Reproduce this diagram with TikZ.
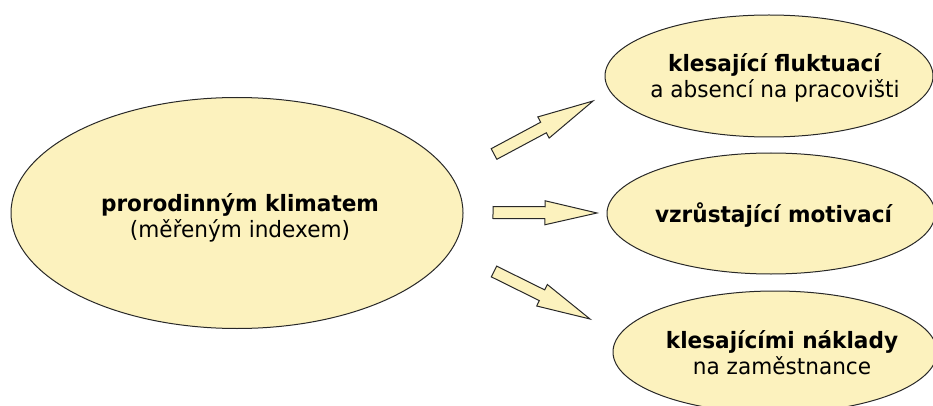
\documentclass[tikz,border=0pt]{standalone}
\usepackage{fontspec}
\setmainfont{DejaVu Sans}[FakeStretch=0.96]
\usetikzlibrary{shapes.geometric,calc}
\definecolor{ovalfill}{RGB}{252,242,190}
\definecolor{edgegray}{RGB}{40,40,40}
\tikzset{
  oval/.style={ellipse, draw=edgegray, fill=ovalfill, line width=1pt, inner sep=0pt},
  ovaltext/.style={inner sep=0pt, align=center, font=\fontsize{22.5}{26}\selectfont},
  blockarrow/.style={draw=edgegray, fill=ovalfill, line width=1pt, line join=miter,
    to path={($(\tikztostart)!6pt!90:(\tikztotarget)$)
      -- ($(\tikztostart)!.5!(\tikztotarget)!6pt!90:(\tikztotarget)$)
      -- ($(\tikztostart)!.5!(\tikztotarget)!12pt!90:(\tikztotarget)$)
      -- (\tikztotarget)
      -- ($(\tikztostart)!.5!(\tikztotarget)!12pt!-90:(\tikztotarget)$)
      -- ($(\tikztostart)!.5!(\tikztotarget)!6pt!-90:(\tikztotarget)$)
      -- ($(\tikztostart)!6pt!-90:(\tikztotarget)$) -- cycle}}
}
\begin{document}
\begin{tikzpicture}[x=1pt,y=1pt,yscale=-1,xscale=1]
\useasboundingbox (0,0) rectangle (933,406);

%Shape: Ellipse [climate]
\node[oval, minimum width=452pt, minimum height=231pt] (climate) at (237,213) {};
%Shape: Ellipse [fluct]
\node[oval, minimum width=328pt, minimum height=122pt] (fluct) at (769,76) {};
%Shape: Ellipse [motiv]
\node[oval, minimum width=328pt, minimum height=121pt] (motiv) at (771,213.5) {};
%Shape: Ellipse [costs]
\node[oval, minimum width=324pt, minimum height=122pt] (costs) at (775,352) {};

% Text Node
\node[ovaltext] (climate text) at ([xshift=3pt,yshift=5pt]climate.center)
  {\textbf{prorodinným klimatem}\\(měřeným indexem)};
% Text Node
\node[ovaltext] (fluct text) at ([xshift=6pt,yshift=2pt]fluct.center)
  {\textbf{klesající fluktuací}\\a absencí na pracovišti};
% Text Node
\node[ovaltext] (motiv text) at ([xshift=3pt,yshift=2pt]motiv.center)
  {\textbf{vzrůstající motivací}};
% Text Node
\node[ovaltext] (costs text) at ([xshift=7pt,yshift=1pt]costs.center)
  {\textbf{klesajícími náklady}\\na zaměstnance};

% Block arrows
\coordinate (up tail) at (494,154);
\coordinate (up tip) at (593,101);
\coordinate (mid tail) at (493,212.5);
\coordinate (mid tip) at (597,213);
\coordinate (down tail) at (494,271.5);
\coordinate (down tip) at (590,319);
\draw[blockarrow] (up tail) to (up tip);
\draw[blockarrow] (mid tail) to (mid tip);
\draw[blockarrow] (down tail) to (down tip);

\end{tikzpicture}
\end{document}
